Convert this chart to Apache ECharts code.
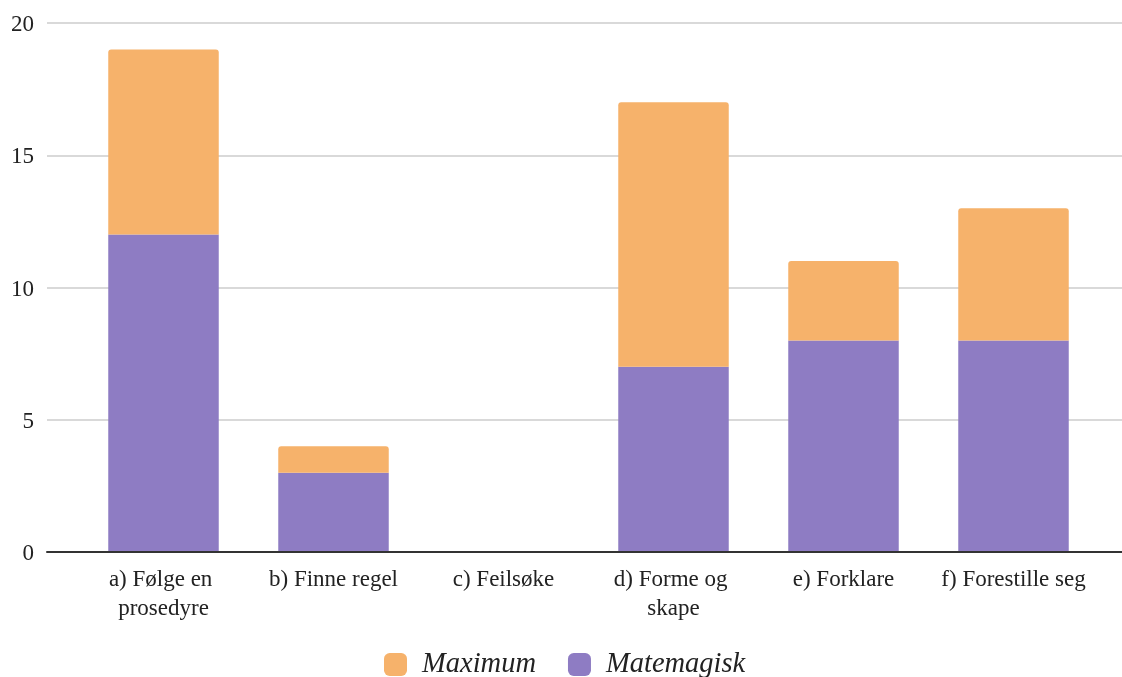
<!DOCTYPE html>
<html>
<head>
<meta charset="utf-8">
<script src="https://cdn.jsdelivr.net/npm/echarts@6/dist/echarts.min.js"></script>
<style>
  html, body { margin: 0; padding: 0; background: #fff; }
  #chart { width: 1122px; height: 677px; }
</style>
</head>
<body>
<div id="chart"></div>
<script>
// Categories and series values
const categories = ['a) Følge en prosedyre', 'b) Finne regel', 'c) Feilsøke', 'd) Forme og skape', 'e) Forklare', 'f) Forestille seg'];
const matemagisk = [12, 3, 0, 7, 8, 8];
const maximum = [7, 1, 0, 10, 3, 5];
const seriesNames = ['Maximum', 'Matemagisk'];
const yTicks = { min: 0, max: 20, interval: 5 };

const FONT = 'Liberation Serif';
const chart = echarts.init(document.getElementById('chart'));

chart.setOption({
  animation: false,
  textStyle: { fontFamily: FONT },
  legend: {
    data: seriesNames,
    top: 650,
    left: 384,
    padding: 0,
    itemWidth: 23,
    itemHeight: 23,
    itemGap: 32,
    icon: 'roundRect',
    textStyle: { fontFamily: FONT, fontStyle: 'italic', fontSize: 28.5, color: '#222', padding: [0, 0, 0, 10] }
  },
  grid: [
    // full-width area for gridlines and the baseline
    { left: 47, right: 0, top: 23, bottom: 125 },
    // inner area where the bars sit
    { left: 78.5, right: 23.5, top: 23, bottom: 125 }
  ],
  xAxis: [
    {
      gridIndex: 0, type: 'value', min: 0, max: 1, z: 5,
      axisLine: { show: true, lineStyle: { color: '#333', width: 2 } },
      axisTick: { show: false }, axisLabel: { show: false }, splitLine: { show: false }
    },
    {
      gridIndex: 1, type: 'category', data: categories,
      axisLine: { show: false }, axisTick: { show: false },
      axisLabel: {
        interval: 0,
        fontFamily: FONT, fontSize: 23, color: '#222', margin: 13,
        lineHeight: 29, width: 150, overflow: 'break'
      }
    }
  ],
  yAxis: [
    {
      gridIndex: 0, type: 'value', min: yTicks.min, max: yTicks.max, interval: yTicks.interval,
      axisLine: { show: false }, axisTick: { show: false },
      axisLabel: {
        fontFamily: FONT, fontSize: 23, color: '#222', margin: 13,
        verticalAlign: 'top', lineHeight: 4
      },
      splitLine: { lineStyle: { color: '#cccccc', width: 1.5 } }
    },
    {
      gridIndex: 1, type: 'value', min: yTicks.min, max: yTicks.max, interval: yTicks.interval,
      show: false, splitLine: { show: false }
    }
  ],
  series: [
    {
      name: 'Matemagisk', type: 'bar', stack: 'total',
      xAxisIndex: 1, yAxisIndex: 1,
      data: matemagisk, barCategoryGap: '35%',
      itemStyle: { color: '#8e7cc3' }
    },
    {
      name: 'Maximum', type: 'bar', stack: 'total',
      xAxisIndex: 1, yAxisIndex: 1,
      data: maximum, barCategoryGap: '35%',
      itemStyle: { color: '#f6b26b', borderRadius: [3, 3, 0, 0] }
    }
  ]
});
</script>
</body>
</html>
